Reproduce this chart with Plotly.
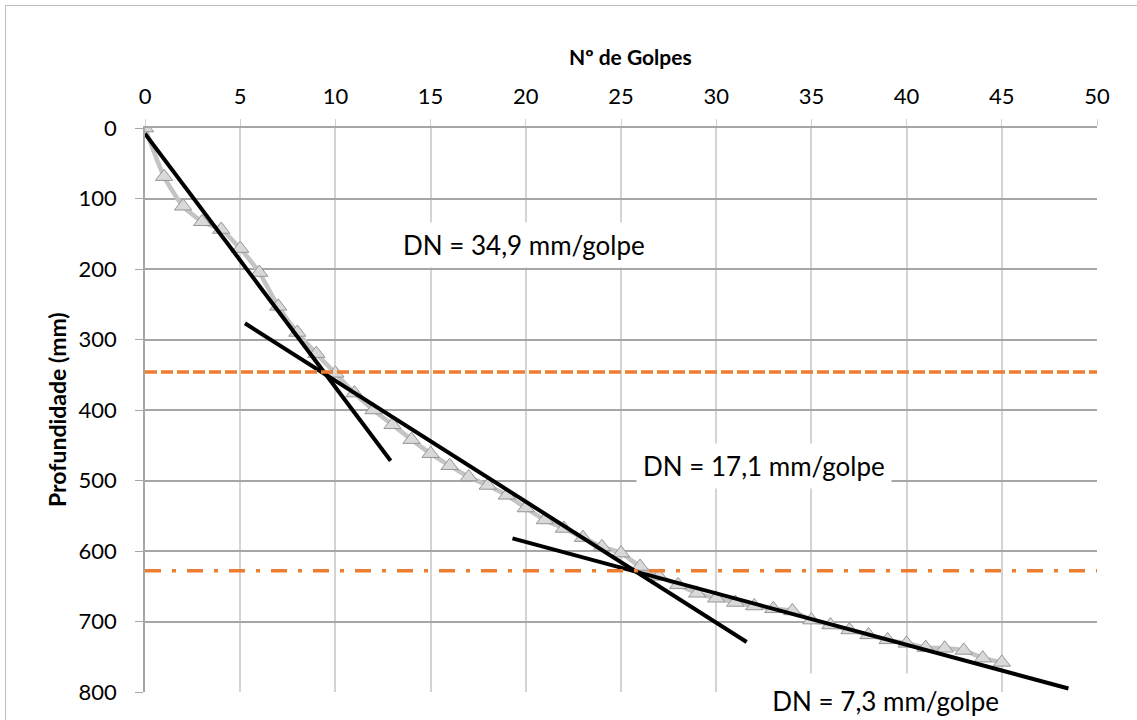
import plotly.graph_objects as go

# ---- data ----
golpes = list(range(0, 46))
profundidade = [0, 69, 111, 133, 144, 171, 205, 253, 290, 320,
                348, 376, 400, 421, 442, 462, 479, 495, 507, 521,
                539, 556, 568, 581, 594, 603, 622, 636, 648, 660,
                667, 673, 678, 682, 685, 698, 705, 712, 719, 726,
                731, 737, 738, 741, 752, 758]

trend1_x = [0, 12.9]
trend1_y = [8, 472]
trend2_x = [5.25, 31.6]
trend2_y = [277, 729]
trend3_x = [19.3, 48.5]
trend3_y = [582, 795]

limit_x = [0, 50]
limit1_y = 346
limit2_y = 628

labels = ["DN = 34,9 mm/golpe", "DN = 17,1 mm/golpe", "DN = 7,3 mm/golpe"]
x_title = "<b>Nº de Golpes</b>"
y_title = "<b>Profundidade (mm)</b>"

x_ticks = list(range(0, 51, 5))
y_ticks = list(range(0, 801, 100))

FONT = "Lato"
ORANGE = "#ED7D31"

fig = go.Figure()

fig.add_trace(go.Scatter(
    x=golpes, y=profundidade, mode="lines+markers",
    line=dict(color="#c4c4c4", width=4.5, shape="spline", smoothing=0.6),
    marker=dict(symbol="triangle-up", size=15, color="#d9d9d9",
                line=dict(color="#959595", width=1)),
    showlegend=False))

for tx, ty in [(trend1_x, trend1_y), (trend2_x, trend2_y), (trend3_x, trend3_y)]:
    fig.add_trace(go.Scatter(x=tx, y=ty, mode="lines",
                             line=dict(color="black", width=4),
                             showlegend=False))

fig.add_trace(go.Scatter(x=limit_x, y=[limit1_y, limit1_y], mode="lines",
                         line=dict(color=ORANGE, width=3.5, dash="12px,4px"),
                         showlegend=False))
fig.add_trace(go.Scatter(x=limit_x, y=[limit2_y, limit2_y], mode="lines",
                         line=dict(color=ORANGE, width=3.5, dash="16px,11px,4px,11px"),
                         showlegend=False))

lab_font = dict(family=FONT, size=26, color="black")
fig.add_annotation(x=19.9, y=166, xref="x", yref="y", text=labels[0], showarrow=False,
                   font=lab_font, bgcolor="white", borderpad=6)
fig.add_annotation(x=32.5, y=480, xref="x", yref="y", text=labels[1], showarrow=False,
                   font=lab_font, bgcolor="white", borderpad=6)
fig.add_annotation(x=38.26, y=-0.016, xref="x", yref="paper", text=labels[2], showarrow=False,
                   xanchor="center", yanchor="middle",
                   font=lab_font, bgcolor="white", width=252, height=54, align="right",
                   valign="middle", borderpad=0)

# axis titles
fig.add_annotation(x=0.5095, y=1.126, xref="paper", yref="paper", text=x_title,
                   showarrow=False, xanchor="center", yanchor="middle",
                   font=dict(family=FONT, size=21, color="black"))
fig.add_annotation(x=-0.0924, y=0.5, xref="paper", yref="paper", text=y_title,
                   showarrow=False, xanchor="center", yanchor="middle", textangle=-90,
                   font=dict(family=FONT, size=23, color="black"))

# outer chart border
fig.add_shape(type="rect", xref="paper", yref="paper",
              x0=-0.1465, x1=1.06, y0=-0.06, y1=1.2172,
              line=dict(color="#bdbdbd", width=1), fillcolor="rgba(0,0,0,0)")

fig.update_layout(
    width=1137, height=720,
    margin=dict(l=145, r=40, t=128, b=28),
    paper_bgcolor="white", plot_bgcolor="white",
    font=dict(family=FONT, color="black"),
    xaxis=dict(range=[0, 50], side="top", tickvals=x_ticks,
               showgrid=True, gridcolor="#d4d4d4", gridwidth=1.5,
               zeroline=False, showline=True, linecolor="#a6a6a6", linewidth=1.5,
               ticks="outside", ticklen=7, tickcolor="#d0d0d0",
               tickfont=dict(family=FONT, size=22, color="black"),
               ticklabelstandoff=6),
    yaxis=dict(range=[800, 0], tickvals=y_ticks,
               showgrid=True, gridcolor="#a6a6a6", gridwidth=1.5,
               zeroline=False, showline=True, linecolor="#a6a6a6", linewidth=1.5,
               ticks="outside", ticklen=8, tickcolor="#a6a6a6",
               tickfont=dict(family=FONT, size=22, color="black"),
               ticklabelstandoff=14),
)

fig.write_html("out.html")
